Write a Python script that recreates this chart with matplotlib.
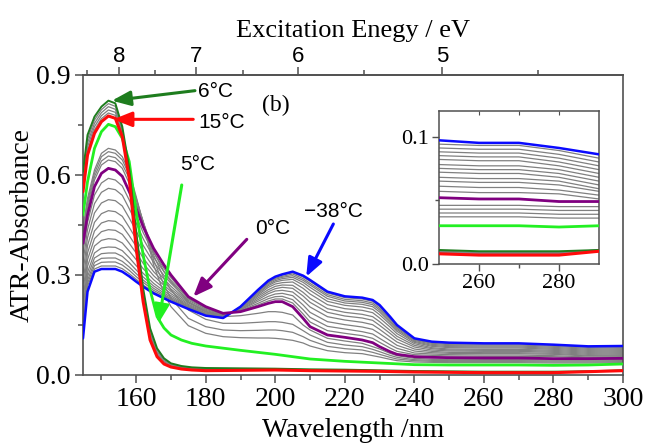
import numpy as np
import matplotlib
matplotlib.use('Agg')
import matplotlib.pyplot as plt

SERIF = ['Liberation Serif', 'DejaVu Serif']
SANS = ['Liberation Sans', 'DejaVu Sans']
NARROW = ['Liberation Sans Narrow', 'Liberation Sans', 'DejaVu Sans']

# ---------------- data ----------------
# grid used by the cold family (-38..0 C) and the 1-4 C curves
WL_COLD = [144.7, 146, 148, 150, 152, 154, 156, 158, 160, 162, 165, 168, 170,
           175, 180, 185, 190, 195, 198, 200, 202, 205, 208, 210, 215, 220,
           225, 228, 230, 233, 235, 240, 245, 250, 260, 270, 280, 290, 300]
# grid used by the warm curves (5 C, 6 C, 6-15 C, 15 C)
WL_HOT = [144.7, 146, 148, 150, 152, 154, 156, 158, 160, 162, 164, 166, 168,
          170, 173, 176, 180, 190, 200, 210, 220, 230, 240, 250, 260, 270,
          280, 290, 300]

A_M38C = [0.11, 0.25, 0.31, 0.318, 0.318, 0.318, 0.31, 0.296, 0.28, 0.265, 0.245,
          0.23, 0.22, 0.198, 0.178, 0.171, 0.205, 0.255, 0.283, 0.295, 0.302,
          0.31, 0.298, 0.285, 0.25, 0.236, 0.232, 0.225, 0.21, 0.175, 0.15,
          0.11, 0.10, 0.097, 0.095, 0.095, 0.091, 0.086, 0.087]
A_0C = [0.395, 0.48, 0.565, 0.605, 0.62, 0.615, 0.596, 0.55, 0.50, 0.445, 0.38,
        0.33, 0.30, 0.235, 0.205, 0.185, 0.19, 0.205, 0.215, 0.22, 0.22, 0.205,
        0.17, 0.145, 0.12, 0.113, 0.105, 0.097, 0.085, 0.07, 0.062, 0.055,
        0.053, 0.052, 0.051, 0.051, 0.049, 0.049, 0.050]

# 12 gray curves between -38 C and 0 C (rows = WL_COLD, columns = curves)
COLD_GRAYS_TABLE = [
    [.119, .130, .141, .156, .173, .196, .221, .247, .275, .307, .338, .367],
    [.267, .275, .284, .295, .308, .326, .346, .366, .388, .412, .436, .458],
    [.318, .328, .338, .351, .366, .387, .409, .432, .458, .486, .514, .540],
    [.327, .338, .350, .364, .381, .404, .430, .456, .484, .516, .548, .576],
    [.327, .339, .351, .366, .384, .409, .436, .463, .493, .526, .560, .590],
    [.327, .339, .351, .366, .383, .407, .434, .461, .490, .523, .556, .585],
    [.319, .330, .341, .356, .373, .396, .422, .447, .476, .507, .539, .567],
    [.304, .314, .324, .337, .352, .372, .395, .418, .443, .471, .499, .525],
    [.287, .295, .304, .315, .328, .346, .366, .386, .408, .432, .456, .478],
    [.270, .278, .285, .294, .305, .319, .335, .351, .369, .389, .409, .427],
    [.249, .254, .260, .267, .275, .286, .298, .310, .323, .338, .353, .367],
    [.233, .237, .241, .246, .252, .260, .269, .278, .288, .299, .310, .320],
    [.222, .226, .229, .233, .238, .244, .251, .258, .266, .275, .284, .292],
    [.199, .201, .202, .204, .206, .209, .212, .216, .219, .224, .228, .231],
    [.179, .180, .181, .182, .184, .186, .189, .191, .194, .197, .200, .202],
    [.171, .172, .173, .173, .174, .175, .176, .178, .179, .181, .182, .184],
    [.205, .204, .203, .203, .202, .201, .199, .198, .196, .195, .193, .192],
    [.254, .252, .250, .247, .244, .240, .236, .231, .226, .221, .215, .210],
    [.281, .278, .276, .272, .268, .263, .256, .250, .244, .236, .229, .222],
    [.293, .290, .287, .283, .279, .273, .266, .259, .252, .243, .235, .228],
    [.300, .296, .293, .289, .284, .277, .270, .263, .254, .245, .236, .228],
    [.307, .303, .298, .293, .287, .279, .269, .260, .249, .238, .226, .216],
    [.294, .289, .284, .278, .270, .260, .248, .237, .224, .210, .196, .183],
    [.281, .275, .270, .263, .254, .243, .230, .218, .204, .188, .173, .159],
    [.246, .241, .236, .229, .221, .211, .199, .188, .175, .160, .146, .133],
    [.232, .227, .222, .216, .209, .199, .188, .177, .165, .151, .138, .125],
    [.228, .223, .218, .212, .204, .194, .182, .171, .158, .144, .130, .118],
    [.221, .216, .211, .205, .197, .187, .175, .164, .151, .137, .123, .110],
    [.205, .200, .195, .189, .181, .171, .160, .149, .137, .124, .110, .098],
    [.172, .168, .163, .158, .152, .144, .134, .125, .114, .103, .091, .081],
    [.147, .144, .140, .136, .131, .124, .116, .108, .099, .089, .080, .071],
    [.108, .106, .104, .101, .098, .094, .089, .084, .078, .072, .066, .061],
    [.098, .095, .092, .089, .086, .082, .079, .075, .071, .067, .063, .059],
    [.094, .091, .088, .085, .082, .078, .075, .072, .068, .065, .061, .057],
    [.093, .090, .087, .084, .081, .077, .074, .071, .067, .064, .060, .056],
    [.093, .090, .087, .084, .081, .077, .074, .071, .067, .064, .060, .056],
    [.089, .086, .083, .080, .077, .074, .071, .068, .065, .062, .058, .055],
    [.083, .080, .077, .074, .071, .068, .065, .062, .059, .057, .054, .051],
    [.085, .082, .079, .076, .073, .070, .067, .064, .061, .058, .055, .052],
]

# 1-4 C gray curves (on WL_COLD)
A_1C = [.41, .50, .585, .63, .645, .64, .62, .575, .515, .46, .37, .31, .28, .22,
        .19, .175, .178, .185, .19, .19, .188, .18, .15, .135, .11, .102, .095,
        .085, .078, .065, .058, .05, .047, .046, .046, .046, .045, .045, .046]
A_2C = [.42, .51, .595, .642, .657, .652, .632, .59, .525, .46, .36, .29, .255,
        .195, .167, .155, .155, .158, .16, .16, .158, .152, .133, .12, .098, .09,
        .085, .077, .07, .059, .053, .046, .044, .043, .043, .043, .042, .042, .043]
A_3C = [.43, .52, .605, .655, .67, .665, .645, .60, .53, .46, .345, .27, .23, .17,
        .145, .135, .133, .134, .135, .135, .133, .128, .115, .104, .086, .079,
        .075, .068, .062, .053, .048, .043, .041, .040, .040, .040, .039, .039, .040]
A_4C = [.44, .53, .615, .665, .68, .675, .655, .61, .535, .455, .33, .245, .205,
        .148, .125, .115, .112, .111, .111, .11, .108, .104, .096, .087, .073,
        .067, .064, .058, .054, .047, .043, .039, .038, .037, .037, .037, .036,
        .036, .037]

# warm curves (on WL_HOT)
A_5C = [0.48, 0.58, 0.68, 0.73, 0.752, 0.745, 0.71, 0.64, 0.49, 0.36, 0.255, 0.175,
        0.141, 0.12, 0.105, 0.095, 0.087, 0.074, 0.062, 0.048, 0.041, 0.036,
        0.031, 0.030, 0.030, 0.030, 0.029, 0.030, 0.033]
A_6C = [0.61, 0.72, 0.775, 0.805, 0.823, 0.815, 0.745, 0.62, 0.43, 0.26, 0.14,
        0.08, 0.05, 0.035, 0.027, 0.023, 0.021, 0.020, 0.019, 0.017, 0.016,
        0.014, 0.012, 0.011, 0.010, 0.010, 0.010, 0.011, 0.014]
A_15C = [0.55, 0.66, 0.725, 0.76, 0.777, 0.77, 0.715, 0.59, 0.38, 0.22, 0.105,
         0.055, 0.033, 0.024, 0.018, 0.015, 0.013, 0.014, 0.015, 0.013, 0.012,
         0.011, 0.009, 0.008, 0.007, 0.007, 0.007, 0.010, 0.013]
# gray curves between 6 C and 15 C (rows = WL_HOT, columns = curves)
HOT_GRAYS_TABLE = [
    [.562, .574, .586, .598], [.672, .684, .696, .708], [.735, .745, .755, .765],
    [.769, .778, .787, .796], [.786, .795, .805, .814], [.779, .788, .797, .806],
    [.721, .727, .733, .739], [.596, .602, .608, .614], [.39, .40, .41, .42],
    [.228, .236, .244, .252], [.112, .119, .126, .133], [.06, .065, .07, .075],
    [.036, .04, .043, .046], [.026, .028, .031, .033], [.02, .022, .023, .025],
    [.017, .018, .02, .021], [.015, .016, .018, .019], [.015, .016, .018, .019],
    [.016, .017, .017, .018], [.014, .015, .015, .016], [.013, .014, .014, .015],
    [.012, .012, .013, .013], [.01, .01, .011, .011], [.009, .009, .01, .01],
    [.008, .008, .009, .009], [.008, .008, .009, .009], [.008, .008, .009, .009],
    [.010, .010, .011, .011], [.013, .013, .014, .014],
]

X_TICKS = [160, 180, 200, 220, 240, 260, 280, 300]
Y_TICKS = [0.0, 0.3, 0.6, 0.9]
E_TICKS = [8, 7, 6, 5]
E_MINOR = [8.5, 7.5, 6.5, 5.5, 4.5]
INSET_X_TICKS = [260, 280]
INSET_Y_TICKS = [0.0, 0.1]

GRAY = '#808080'
C_BLUE = '#0a0aff'
C_PURPLE = '#800080'
C_GREEN = '#22f022'
C_DKGREEN = '#1e7d1e'
C_RED = '#ff0a0a'
SPINE = '#505050'


def draw_curves(a):
    wc = np.array(WL_COLD)
    wh = np.array(WL_HOT)
    cold = np.array(COLD_GRAYS_TABLE)
    hot = np.array(HOT_GRAYS_TABLE)
    kw = dict(solid_joinstyle='round', solid_capstyle='round')
    for j in range(cold.shape[1]):
        a.plot(wc, cold[:, j], color=GRAY, lw=0.9, zorder=2, **kw)
    for arr in (A_1C, A_2C, A_3C, A_4C):
        a.plot(wc, arr, color=GRAY, lw=0.9, zorder=2, **kw)
    for j in range(hot.shape[1]):
        a.plot(wh, hot[:, j], color=GRAY, lw=0.9, zorder=2, **kw)
    a.plot(wc, A_M38C, color=C_BLUE, lw=1.8, zorder=4, **kw)
    a.plot(wc, A_0C, color=C_PURPLE, lw=2.0, zorder=4, **kw)
    a.plot(wh, A_5C, color=C_GREEN, lw=2.0, zorder=4, **kw)
    a.plot(wh, A_6C, color=C_DKGREEN, lw=1.4, zorder=4, **kw)
    a.plot(wh, A_15C, color=C_RED, lw=2.2, zorder=5, **kw)


fig = plt.figure(figsize=(6.46, 4.48), dpi=100)
ax = fig.add_axes([83 / 646, 1 - 375 / 448, 540 / 646, 300 / 448])
draw_curves(ax)
ax.set_xlim(144.7, 300)
ax.set_ylim(0, 0.9)
ax.set_xticks(X_TICKS)
ax.set_xticks(np.arange(150, 300, 10), minor=True)
ax.set_yticks(Y_TICKS)
ax.set_yticks([0.15, 0.45, 0.75], minor=True)
ax.set_yticklabels(['0.0', '0.3', '0.6', '0.9'])
for s in ax.spines.values():
    s.set_color(SPINE)
    s.set_linewidth(1.2)
ax.tick_params(which='both', direction='out', color=SPINE, width=1.1,
               labelsize=20, labelfontfamily=SERIF, pad=3)
ax.tick_params(which='major', length=6)
ax.tick_params(which='minor', length=3.5)
ax.set_xlabel('Wavelength /nm', fontsize=20, family=SERIF, labelpad=4)
ax.set_ylabel('ATR-Absorbance', fontsize=20, family=SERIF, labelpad=1)

sec = ax.secondary_xaxis('top', functions=(lambda x: 1239.84 / np.where(x == 0, 1e-9, x),
                                           lambda e: 1239.84 / np.where(e == 0, 1e-9, e)))
sec.set_xticks(E_TICKS)
sec.set_xticks(E_MINOR, minor=True)
sec.set_xticklabels([str(v) for v in E_TICKS])
sec.spines['top'].set_color(SPINE)
sec.spines['top'].set_linewidth(1.2)
sec.tick_params(which='both', direction='out', color=SPINE, width=1.1,
                labelsize=16, labelfontfamily=NARROW, pad=0)
sec.tick_params(which='major', length=6)
sec.tick_params(which='minor', length=3.5)
sec.set_xlabel('Excitation Enegy / eV', fontsize=19, family=SERIF, labelpad=6)

# annotations
arrow = dict(arrowstyle='-|>,head_length=0.7,head_width=0.28', lw=2.2,
             mutation_scale=16, shrinkA=0, shrinkB=0)
ax.annotate('', xy=(153.0, 0.823), xytext=(176.9, 0.853),
            arrowprops=dict(arrow, color=C_DKGREEN), zorder=6)
ax.text(177.9, 0.851, '6°C', fontsize=15, family=SANS, va='center', ha='left')
ax.annotate('', xy=(153.4, 0.767), xytext=(176.4, 0.767),
            arrowprops=dict(arrow, color=C_RED), zorder=6)
ax.text(177.9, 0.758, '15°C', fontsize=15, family=SANS, va='center', ha='left')
ax.annotate('', xy=(166.4, 0.155), xytext=(173.1, 0.57),
            arrowprops=dict(arrow, color=C_GREEN), zorder=6)
ax.text(172.6, 0.63, '5°C', fontsize=15, family=SANS, va='center', ha='left')
ax.annotate('', xy=(176.4, 0.235), xytext=(191.8, 0.407),
            arrowprops=dict(arrow, color=C_PURPLE), zorder=6)
ax.text(194.2, 0.44, '0°C', fontsize=15, family=SANS, va='center', ha='left')
ax.annotate('', xy=(208.9, 0.295), xytext=(216.7, 0.453),
            arrowprops=dict(arrow, color=C_BLUE), zorder=6)
ax.text(208.4, 0.49, '\u221238°C', fontsize=15, family=SANS, va='center', ha='left')
ax.text(196.2, 0.81, '(b)', fontsize=17, family=SERIF, va='center', ha='left')

# inset
ins = fig.add_axes([439 / 646, 1 - 264 / 448, 160 / 646, 153 / 448])
draw_curves(ins)
ins.set_xlim(250, 290)
ins.set_ylim(0, 0.12)
ins.set_xticks(INSET_X_TICKS)
ins.set_xticks([270], minor=True)
ins.set_yticks(INSET_Y_TICKS)
ins.set_yticks([0.05], minor=True)
ins.set_yticklabels(['0.0', '0.1'])
for s in ins.spines.values():
    s.set_color(SPINE)
    s.set_linewidth(1.1)
ins.tick_params(which='both', direction='out', color=SPINE, width=1.0,
                labelsize=16, labelfontfamily=SERIF, pad=2)
ins.tick_params(which='major', length=5)
ins.tick_params(which='minor', length=3)
itop = ins.secondary_xaxis('top')
itop.set_xticks([260, 270, 280])
itop.set_xticklabels([])
itop.tick_params(direction='in', length=3, color=SPINE)
itop.spines['top'].set_visible(False)

fig.savefig('out.png', dpi=100)
